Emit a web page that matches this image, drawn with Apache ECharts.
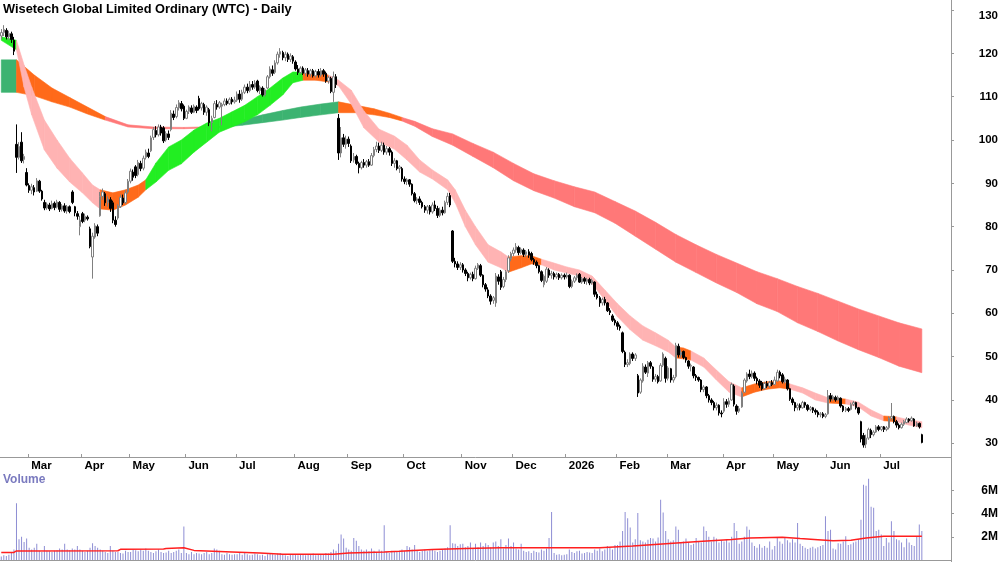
<!DOCTYPE html>
<html><head><meta charset="utf-8">
<script src="https://cdn.jsdelivr.net/npm/echarts@6/dist/echarts.min.js"></script>
<style>html,body{margin:0;padding:0;background:#fff}#c{width:1000px;height:562px}</style>
</head><body><div id="c"></div>
<script>
const chartTitle = 'Wisetech Global Limited Ordinary (WTC) - Daily';
const startDate = [2025, 1, 14];
const holidays = ['2025-04-18','2025-04-21','2025-04-25','2025-06-09','2025-12-25','2025-12-26','2026-01-01','2026-01-26','2026-04-03','2026-04-06','2026-06-08'];
const padDays = 11;
const monthNames = ['Jan','Feb','Mar','Apr','May','Jun','Jul','Aug','Sep','Oct','Nov','Dec'];
const priceTicks = [30,40,50,60,70,80,90,100,110,120,130];
const volumeTicks = [2,4,6];

// [open, close, low, high]
const candles = [
// Feb 2025
[124,124.8,123.2,125.6],[124.8,125.5,124,126.5],[125.3,123.8,123.2,125.8],[123.8,124.6,123,125.2],[124.5,123.2,122.4,125],[123,120.5,119.6,123.8],
[99,96,92.4,103.6],[96,98.5,95.5,99.5],[99.5,95.2,94.7,101.8],[95.5,96.2,94.6,96.8],[92.5,89.6,89.3,93.5],
// Mar
[89.5,88.4,87.8,90],[88.4,89.2,87.5,89.9],[89,88,87.2,89.6],[88.2,90.6,88,91.2],[90.5,88.2,87.8,90.8],[88.2,86.4,86,88.5],
[85.6,84.3,83.8,86.2],[84.3,85.2,83.9,85.6],[85,84.1,83.6,85.5],[84.2,85.3,84,86],[85.4,84.4,83.8,85.8],[84.5,85.7,84.2,86.2],
[85.6,84,83.4,85.9],[84,84.8,83.5,85.2],[84.8,83.6,83.2,85.4],[83.6,84.6,83,85],[84.6,83.5,83.1,84.9],[88,85.6,85.2,88.4],
[84.6,83.2,82.4,84.8],[83,82.4,81.6,83.6],[80,81.5,78,82.5],
// Apr
[83,81.2,80.8,83.4],[81.5,82.4,81,83],[82.2,81.8,81.4,82.6],[79.5,75.4,75,80],[73,77.8,68,78.6],[77.6,80.2,77.2,80.8],[80,78.5,77.8,80.5],
[82.5,87,82.3,88],[87,88,86.2,88.8],[87.6,85.5,84.8,88],[85.6,86.4,84.6,87],[86.2,84.2,83.4,86.8],[85.5,81.5,80.8,86],[81.5,80.5,80,82.4],
[82,84.8,81.6,85.2],[84.6,86.8,84.3,87.4],[86.6,85.5,85,87.4],[85.6,87.8,85.2,88.4],[88,90.5,87.6,91],
// May
[90.5,92.8,90,93.4],[92.6,91.4,90.6,93.2],[93.8,91.8,91.2,94.2],[92,94.8,91.6,95.4],[94.6,93.4,92.8,95.2],[93.5,95.8,93,96.4],[96,97.2,95.5,97.8],[97,96.2,95.8,98],
[97.5,100.5,97.2,101],[100.6,102.4,100,103],[102.2,101.2,100.6,103.2],[101.2,103,100.8,103.6],[103,101.6,101,103.5],[102.8,99.8,99.3,103.2],[100,101.5,99.6,102],[101.4,100.6,100,102.2],
[102.4,106.2,102,106.9],[106,105.2,104.6,106.8],[105.4,107.5,105,108.2],[107.4,108.6,106.8,109.2],[108.4,107.2,106.6,109],[107.8,105,104.6,108.2],
// Jun
[105,106.6,104.8,107],[106.6,107.6,106,108],[107.4,106.4,106,108],[106.4,107.8,106.2,108.2],[107.6,106.8,106.2,108],
[109.6,107.2,106.8,110.2],[107.4,108.4,106.8,108.8],[108.2,106.4,105.8,108.6],[106.4,107.6,105.6,108],[107,104,103.2,107.4],
[104,105,102,105.6],[105.2,108.4,105,109],[108.2,107.6,107,109.2],[107.6,108.6,107.2,109],[107.8,108.2,103.4,108.6],
[108.2,109,107.8,109.6],[109,108.4,108,109.6],[108.4,109.4,108.1,109.8],[109.4,108.8,108.2,109.9],[108.8,109.2,108.4,110],
// Jul
[109.2,110.6,108.8,111.2],[110.6,109.4,108.6,111.5],[109.4,111,109,111.6],[111,112.2,110.6,112.8],[112.2,111.4,110.8,113],
[111.4,112.8,111,113.6],[112.8,112.2,111.6,113.6],[112.2,113.2,111.8,113.8],[113.6,111.4,111,113.9],[111.4,112.2,110.6,112.6],
[112,110.4,110,112.4],[110.4,111.6,110,112],[112,114.6,111.8,115],[114.6,116.4,114.2,117],[116.2,115.4,114.8,117.2],
[115.6,117.8,115.2,118.4],[117.8,119.8,117.4,120.4],[119.8,120.4,119,121.2],[120.2,119,118.4,120.6],[119,119.8,118.2,120.4],
[119.8,118.6,118,120.2],[118.6,119.4,118,120],[119.2,118.2,117.6,119.6],
// Aug
[118,116.4,116,118.4],[116.4,115.6,115,117.3],[115.6,116.6,115.2,117],[116.6,115.4,115,117],[115.4,116.2,114.8,116.6],
[116,115.2,114.6,116.6],[115.2,116,114.6,116.4],[116,114.8,114.4,116.4],[114.8,115.8,114.4,116.2],[115.8,115,114.4,116.4],
[115,116,114.6,116.6],[116,115.2,114.6,116.4],[115.4,113.6,113.2,115.8],[113.6,114.4,113,114.8],[114.2,111.2,110.8,114.6],
[111,114.6,108.8,115.8],[114.6,112.8,112,115.2],[105,97,95.4,106],[97,100.5,96,103],[100.5,99,98.4,101.4],[99,100.2,98,101],
// Sep
[100.2,99.2,98.4,100.8],[98.6,95.2,94.7,99],[95.4,96.2,94.8,97],[96.2,94.6,94.2,96.6],[94.6,93.6,92.3,95],
[93.6,94.8,93.2,95.2],[94.8,94.2,93.6,95.6],[94.2,95,93.6,95.4],[95,94.2,93.8,95.6],[94.2,96.4,94,97],
[96.4,97.8,96,98.4],[97.8,98.6,97.2,99.6],[98.6,97.6,97,99.4],[97.6,98.8,97.2,99.6],[98.8,97.2,96.6,99.4],
[97.2,98,96.6,98.6],[98,97.2,96.4,98.4],[97.2,94.6,94,97.6],[94.6,95.2,93.6,95.8],[95.2,93.4,93,95.4],
[93.4,93.8,92.4,94.2],[93.4,91,90.4,93.8],
// Oct
[91,90.4,89.8,91.6],[90.4,90.8,89.6,91.2],[90.8,89.8,89.2,91],[89.8,87.6,87.2,90],[87.6,86,85.6,88],
[86,86.4,85.2,86.8],[86.4,85.6,85,87],[85.6,84.6,84.2,86],[84.6,83.8,83.2,85],[83.8,84.6,83,85],
[84.6,83.4,82.8,85],[83.4,85,83,85.6],[85,84.2,83.6,86],[84.2,82.6,82,84.8],[82.6,83.8,82.2,84.4],
[83.8,83.2,82.6,84.6],[83.2,85.6,83,86],[85.6,87,85,87.8],[87.2,85,84.5,87.8],[79,72,71.6,79.2],
[72,71.4,70.6,72.8],[71.4,70.6,70,72],[70.6,71.2,70,71.8],
// Nov
[71.2,70,69.4,71.6],[70,69.2,68.6,70.4],[69.2,68.2,67.4,69.6],[68.2,69,67.8,69.4],[69,68,67.4,69.6],
[68,70.4,67.8,71],[70.4,71.2,70,71.6],[71,68.8,68.4,71.4],[68.8,66.6,66,69],[66.6,65.6,65,67],
[65.4,64,63.5,66],[64,62.8,62,64.4],[63,63.6,62.2,64],[62.4,68.6,61.5,69.3],[68.4,67.4,66.6,69],
[69.6,66,65.4,70],[66.2,67.8,65.8,68.4],[67.8,69.6,67.2,70],[69.8,72.8,69.3,73.4],[72.6,73.8,72,74.2],
// Dec
[73.8,74.6,73.2,75.2],[74.6,75.4,74,76.2],[75.2,74,73.4,75.6],[74,74.8,73.6,75.2],[74.6,73.6,73,75],
[73.6,74.2,73,74.6],[74.2,73.4,72.8,74.8],[73.8,72.4,72,74.2],[72.4,71.8,71.2,72.8],[71.8,71,70.4,72.2],
[71,69.6,69.2,71.2],[69.6,67.6,67.2,69.9],[66.6,68.6,66,69],[67.4,70.2,67,70.7],[70,68.8,68.2,70.4],
[68.8,69.2,68,69.8],[69.2,68.4,67.8,69.6],[68.4,69,68,69.4],[69,68.2,67.7,69.3],[68.2,68.8,67.8,69.2],[68.8,68.4,67.8,69.2],
// Jan 2026
[68.4,68.8,68,69.4],[68.8,66.2,65.8,69],[66.2,67.4,65.8,67.8],[67.4,68.2,67,68.6],[68.2,68.8,67.6,69.2],
[69,67.2,67,69.3],[67.2,68,66.8,68.4],[68,67.4,66.8,68.4],[67.4,67.8,66.6,68.2],[67.8,67,66.5,68.2],
[67,67.6,66.6,68],[67.2,64.4,63.8,67.4],[64.4,63.6,63.2,65],[63.6,62.4,61.5,64],[62.4,63.2,61.8,63.6],
[63.2,62.4,61.8,63.8],[62.4,60.6,60.3,62.6],[60.6,60.2,59.6,61.2],[59.4,58.4,58,59.8],[58.4,57.8,57.2,58.8],
// Feb
[57.8,57,56.2,58.2],[57,56.6,56,57.4],[55.5,51.2,50.8,55.8],[51,48.2,47.6,51.4],[48.2,48.6,47.6,49.4],
[48.4,50.6,48,51],[50.6,49.6,49,51],[49.6,50.4,49,50.8],[45.6,41.6,40.7,46],[41.8,44.6,41.4,45],
[44.4,47.8,44,48.5],[47.6,46.4,46,48.2],[46.2,48.6,45.3,49],[48.6,47.8,47.2,49],[47.6,44.8,44.2,47.8],
[44.8,45.4,44.2,46],[45.4,44.2,43.8,45.8],[44.4,48,44.2,48.5],[48,50.6,47.6,51],[49.6,45,44,50],
// Mar
[45,47.4,44.5,47.8],[47.2,44.6,44,47.4],[44.6,45.2,44,45.8],[45.4,52.6,45,53.2],[52.4,50.4,49.8,53],
[50.4,51,49.8,51.6],[51.2,49.8,49.4,51.4],[49.8,49.2,48.6,50],[49,47.8,47.2,49.2],[47.8,48,46.6,48.4],
[47.6,45.6,45,47.8],[45.6,45.2,44.4,46],[45.2,44.6,44.2,45.4],[44.6,42.4,41.8,44.8],[42.4,43,41.8,43.4],
[43,41,40.4,43.2],[41,40,39.4,41.4],[40,39.4,38.8,40.4],[39.4,38.2,37.6,39.8],[38.2,38.8,37.6,39.4],
[38.8,37,36.4,39],[37,36.8,36,37.6],
// Apr
[37.4,39.6,37,40.4],[39.6,39,38.2,40.2],[39,39.8,38.4,40.5],[40,43.6,39.8,44],[43.2,39,38.5,43.6],
[38.6,37.4,36.6,39],[37.4,38,37,38.6],[38.4,41.6,38.2,42],[41.8,44.6,41.6,45],[44.4,46,44,46.4],
[46,45.4,44.8,47],[45.4,46.2,45,46.8],[46.2,45,44.4,46.6],[45,44.4,43.6,45.4],[44.4,43.4,42.8,44.8],
[44,42.6,42.2,44.4],[42.6,43.8,42.4,44.2],[43.8,43.2,42.8,44.4],[43.2,44,42.8,44.4],[44,43.6,43.2,44.6],
// May
[43.6,44.6,43.4,45.4],[44.4,46.4,44.2,47],[46.4,45.6,45,46.8],[45.8,44.2,43.8,46.2],[44.2,44.8,43.8,45.4],
[44.6,42.6,42.2,44.8],[42.6,40.2,39.8,42.8],[40.2,39.4,38.8,40.6],[39.4,38.2,37.4,39.6],[38.2,38.8,37.6,39.2],
[38.8,38.2,37.6,39.2],[38.2,39.4,38,39.8],[39.4,38.8,38.2,39.6],[38.8,37.8,37.4,39],[37.8,38.2,37.4,38.6],
[38.2,37.6,37,38.4],[37.6,37.2,36.6,38],[37.2,36.6,36,37.6],[36.6,36.8,36,37.2],[36.8,36.2,35.8,37.2],[36.2,36.6,35.8,37],
// Jun
[36.8,41,36.6,42.3],[41,40.2,39.6,41.6],[40.2,40.8,39.8,41.2],[40.6,40,39.6,41],[40,40.6,39.8,41],
[40.4,38.6,38.2,40.6],[38.6,37.6,37.2,38.8],[37.6,38,37.2,38.4],[38,37.6,37.2,38.4],[37.8,39,37.6,39.4],
[39,39.4,38.6,39.8],[39.4,38.2,37.8,39.6],[38.2,37,36.6,38.4],[35,31,30.2,35.2],[31.8,29.6,29,32.4],
[29.8,31.2,28.9,32],[31.2,33.2,30.8,33.6],[33,32,31.2,33.4],[32,32.6,31.6,33],[32.6,33.8,32.4,34.2],[33.8,33.2,32.8,34.2],
// Jul
[33.2,33.8,32.8,34],[33.8,33.2,32.6,34],[33.2,33.6,32.8,34],[33.6,35.8,33.2,36.2],[35.8,36.2,35.2,39.3],
[36.2,35,34.6,36.4],[35,34.2,33.6,35.4],[34.2,33.6,33.2,34.6],[33.6,34.4,33.4,34.8],[34.4,35,34,35.4],
[34.8,35.6,34.6,36],[35.6,35.2,34.8,35.8],[35.2,35.8,35,36.2],[35.6,34,33.8,35.8],[34,34.6,33.8,35],
[34.6,33.8,33.4,34.8],[32,30.2,30,32.2]
];

// volume, millions
const volumes = [
0.3,0.4,0.35,0.45,0.6,0.9,4.9,1.8,2.0,1.55,1.85,
1.05,0.9,1.05,1.4,0.8,0.7,1.2,0.8,0.75,0.7,0.8,0.85,1.0,0.9,1.4,0.9,0.85,1.0,0.9,1.2,0.9,
0.8,0.7,0.8,1.05,1.45,1.2,1.05,0.9,0.8,0.7,0.6,1.2,0.8,0.7,0.7,0.6,0.55,0.8,0.7,
0.7,0.9,0.85,0.75,0.9,0.8,1.0,0.8,0.7,0.6,0.75,0.9,0.7,0.6,0.65,0.8,0.6,0.7,0.8,0.9,0.6,2.9,
0.6,0.5,0.7,0.5,0.6,0.55,0.5,0.6,0.7,0.5,0.6,1.0,0.9,0.8,0.5,0.45,0.6,0.5,0.45,0.5,
0.5,0.6,0.45,0.6,0.5,0.4,0.45,0.55,0.5,0.4,0.45,0.35,0.5,0.6,0.5,0.45,0.55,0.6,0.5,0.4,0.35,0.45,0.5,
0.5,0.4,0.45,0.5,0.4,0.5,0.45,0.55,0.4,0.5,0.45,0.5,0.6,0.55,0.7,0.9,0.8,1.4,2.2,1.85,1.05,
0.9,0.8,1.9,1.65,1.2,0.9,0.8,0.9,0.75,1.0,0.8,0.7,0.9,0.8,3.0,0.7,0.6,0.8,0.7,0.75,0.8,0.9,
0.8,1.2,1.1,0.9,1.3,0.8,0.7,0.8,0.9,0.75,0.85,0.9,0.8,0.7,0.8,0.9,1.0,1.1,3.0,1.45,1.4,1.2,1.35,
1.4,1.1,1.2,1.5,1.0,1.4,1.1,1.5,1.2,1.45,1.3,1.1,1.5,1.6,1.2,1.8,1.0,1.3,1.85,1.2,
1.5,1.0,0.9,1.4,0.8,0.7,0.75,0.6,0.8,0.7,0.65,0.9,0.8,1.0,1.9,4.15,0.6,0.45,0.5,0.4,0.45,
0.5,0.9,0.7,0.6,0.75,0.8,0.55,0.6,0.7,0.65,0.6,0.9,0.8,1.0,0.75,0.9,1.2,1.05,0.9,1.3,
1.3,1.6,2.5,4.15,3.6,2.8,1.5,1.8,4.05,1.7,1.6,1.5,1.75,1.9,1.85,1.6,1.95,5.2,4.1,2.5,
1.8,1.6,1.7,2.9,2.6,1.5,1.6,1.85,1.5,1.3,1.4,1.9,1.6,1.5,2.9,2.5,2.0,1.6,2.0,1.85,1.5,1.7,
1.6,1.8,1.5,2.0,3.2,2.5,1.4,1.6,2.0,2.9,2.6,1.5,1.2,1.05,1.35,1.05,1.2,1.05,1.6,0.9,
1.2,1.9,1.6,1.4,1.9,1.7,1.5,1.8,1.5,3.2,1.4,1.2,1.05,0.95,1.05,1.15,1.0,1.1,1.2,1.3,3.77,
2.5,2.6,1.0,0.9,1.45,1.4,1.6,2.05,1.3,1.35,1.5,1.6,1.8,3.48,6.5,6.4,7.0,4.6,4.5,2.5,2.6,
2.2,1.2,1.9,1.5,3.35,2.5,1.8,1.7,1.5,1.1,1.85,1.5,1.3,1.2,2.0,3.06,2.5
];

// volume moving average (read at these day indices), millions
const volMAIdx = [0,5,6,46,47,64,65,72,76,91,102,111,131,137,151,157,170,183,197,236,249,262,275,288,295,308,315,322,328,335,341,348,363];
const volMA    = [0.65,0.65,0.78,0.8,0.92,0.95,1.0,1.05,0.83,0.7,0.6,0.5,0.5,0.6,0.7,0.75,0.9,1.0,1.05,1.05,1.2,1.4,1.6,1.77,1.9,1.97,1.85,1.75,1.65,1.7,1.9,2.05,2.05];

// short-term moving-average ribbon (upper / lower edge at day index), trend state u=up d=down m=mixed
const shortIdx = [0,6,9,12,17,22,27,32,36,39,44,49,54,57,61,66,71,76,81,86,91,96,101,106,111,115,119,124,129,133,138,143,149,155,160,165,170,176,179,183,187,192,197,200,205,209,213,218,223,228,233,238,243,248,253,258,263,266,269,272,277,282,287,292,297,302,307,311,316,321,326,333,338,343,348,353,358,363];
const shortHi  = [123.8,123,117.3,112.2,104.6,100,95.8,92.4,89.6,88.5,87.8,88.5,89.6,90.8,94.7,98.4,100,102.3,103.9,105,106.5,108,110,112,114.3,115.7,115.7,115.5,115,113.8,111.5,106.7,102.5,100.9,98.8,95.4,93.1,90.8,88.5,83.8,80,75.8,74.2,73,73.3,73.3,72.5,71.6,70.7,70,68.6,65.4,62.2,59.4,57.1,55.5,53.8,52.2,52,51.3,49.7,46.9,44.2,42.8,43.7,44.2,44.4,43.7,42.8,41.6,40.5,40.2,39.5,37.7,36.3,36.1,35.4,35];
const shortLo  = [123,120.8,112.2,105.8,97.7,93.5,90.3,87.8,85.5,84.1,83.8,85,86.8,88.5,90.3,93,94.5,97.2,99.5,101.8,103,104.2,105.8,108,110.4,113.2,113.8,113.8,113.4,112.5,108.3,102.8,99.5,97.9,95.4,92.6,91,88.5,85.5,80,75.8,71.8,70.5,69.5,70.5,71.4,71.2,70,69.3,68.6,66.8,63.1,59.2,56.2,53.8,52.5,51.1,49.7,49.5,49.2,47.6,44.6,41.8,40.7,41.8,42.5,42.8,42.5,41.6,40,39.3,39.1,38.4,36.3,35.2,35,34.2,33.6];
const shortState = ['u','d','d','d','d','d','d','d','d','m','m','m','m','u','u','u','u','u','u','u','u','u','u','u','u','u','m','m','d','d','d','d','d','d','d','d','d','d','d','d','d','d','d','m','m','m','d','d','d','d','d','d','d','d','d','d','d','m','m','d','d','d','d','m','m','m','m','d','d','d','m','d','d','d','m','d','d','d'];

// long-term moving-average ribbon
const longIdx = [0,6,13,20,27,34,41,50,60,72,86,95,103,111,118,126,133,140,147,153,158,163,170,178,186,194,202,210,218,226,234,242,250,258,266,274,282,290,298,306,314,322,330,338,346,354,363];
const longHi  = [118.5,118.5,115,112,109.8,107.6,105.4,103.5,103,102.9,103.1,104.6,105.8,106.8,107.6,108.3,108.8,108,107.2,106.2,105.2,104.3,102.6,101.4,99.2,97.2,94.6,92.2,90.6,89.2,88,85.8,83.6,81,78.2,75.8,73.6,71.6,69.6,68,66.2,64.6,62.8,61,59.4,57.8,56.4];
const longLo  = [111,111,110.2,108.8,107.6,106,104.6,103,102.6,102.6,102.9,103.4,104,104.6,105.2,105.8,106.3,106.3,105.8,105.2,104.4,103.2,100.8,98.8,96.2,93.6,90.6,88.3,86.6,84.6,83.2,80.8,77.8,74.8,71.8,69.4,67,64.8,62.2,60.4,57.8,55.8,53.6,51.6,49.8,47.8,46.3];
const longState = ['u','m','m','m','m','m','d','d','d','d','u','u','u','u','u','u','m','m','m','m','d','d','d','d','d','d','d','d','d','d','d','d','d','d','d','d','d','d','d','d','d','d','d','d','d','d','d'];

const FONT = '"Liberation Sans", Arial, sans-serif';
const shortColors = {u:'#22ee22', d:'#ffb3b3', m:'#ff6a1a'};
const longColors  = {u:'#3cb371', d:'#ff7878', m:'#ff6a1a'};

// trading-day categories
const N = candles.length;
const dates = [];
{
  const d = new Date(Date.UTC(startDate[0], startDate[1], startDate[2]));
  while (dates.length < N + padDays) {
    const wd = d.getUTCDay();
    const s = d.toISOString().slice(0, 10);
    if (wd !== 0 && wd !== 6 && holidays.indexOf(s) < 0) dates.push(s);
    d.setUTCDate(d.getUTCDate() + 1);
  }
}
const isMonthStart = dates.map((s, i) => i > 0 && i < N && s.slice(5, 7) !== dates[i - 1].slice(5, 7));
const monthLabel = s => { const m = +s.slice(5, 7); return m === 1 ? s.slice(0, 4) : monthNames[m - 1]; };

function ribbon(idx, hi, lo, st, colors, z) {
  const segs = [];
  for (let k = 0; k < idx.length - 1; k++) segs.push([idx[k], hi[k], lo[k], idx[k + 1], hi[k + 1], lo[k + 1], k]);
  return {
    type: 'custom', xAxisIndex: 0, yAxisIndex: 0, z: z, silent: true,
    data: segs,
    encode: {x: [0, 3], y: [1, 2, 4, 5]},
    renderItem: function (params, api) {
      const k = api.value(6);
      const a = api.coord([api.value(0), api.value(1)]);
      const b = api.coord([api.value(3), api.value(4)]);
      const c = api.coord([api.value(3), api.value(5)]);
      const d = api.coord([api.value(0), api.value(2)]);
      const col = colors[st[k]];
      return {type: 'polygon', shape: {points: [a, b, c, d]}, style: {fill: col, stroke: col, lineWidth: 0.6}};
    }
  };
}

const chart = echarts.init(document.getElementById('c'), null, {renderer: 'canvas', width: 1000, height: 562});
const option = {
  animation: false,
  backgroundColor: '#ffffff',
  title: {text: chartTitle, left: 3, top: 3, padding: 0, textStyle: {fontFamily: FONT, fontSize: 12.8, fontWeight: 'bold', color: '#000'}},
  grid: [
    {left: 0, top: 0, width: 951, height: 457, outerBoundsMode: 'none'},
    {left: 0, top: 472, width: 951, height: 88, outerBoundsMode: 'none'}
  ],
  xAxis: [
    {type: 'category', gridIndex: 0, data: dates, boundaryGap: true,
     axisLine: {lineStyle: {color: '#999', width: 1}},
     axisTick: {show: true, inside: true, length: 3, interval: (i) => isMonthStart[i], lineStyle: {color: '#999'}},
     axisLabel: {interval: (i) => isMonthStart[i], formatter: (v) => monthLabel(v), align: 'left', margin: 3, padding: [0, 0, 0, 2],
                 color: '#000', fontFamily: FONT, fontWeight: 'bold', fontSize: 11.5},
     splitLine: {show: false}},
    {type: 'category', gridIndex: 1, data: dates, boundaryGap: true, position: 'top',
     axisLine: {lineStyle: {color: '#999', width: 1}}, axisTick: {show: false}, axisLabel: {show: false}, splitLine: {show: false}}
  ],
  yAxis: [
    {type: 'value', gridIndex: 0, position: 'right', min: 26.84, max: 132.31, scale: true,
     axisLine: {show: true, lineStyle: {color: '#999'}},
     axisTick: {show: true, customValues: priceTicks, length: 3, lineStyle: {color: '#999'}},
     axisLabel: {customValues: priceTicks, formatter: (v) => v === 130 ? '{t|130}' : String(v),
                 rich: {t: {padding: [11, 0, 0, 0], fontFamily: FONT, fontWeight: 'bold', fontSize: 11.5, color: '#000'}},
                 align: 'right', margin: 47, color: '#000', fontFamily: FONT, fontWeight: 'bold', fontSize: 11.5},
     splitLine: {show: false}},
    {type: 'value', gridIndex: 1, position: 'right', min: 0, max: 7.59,
     axisLine: {show: true, lineStyle: {color: '#999'}},
     axisTick: {show: true, customValues: volumeTicks, length: 3, lineStyle: {color: '#999'}},
     axisLabel: {customValues: volumeTicks, formatter: (v) => v + 'M', align: 'right', margin: 47, color: '#000', fontFamily: FONT, fontWeight: 'bold', fontSize: 12},
     splitLine: {show: false}}
  ],
  graphic: [
    {type: 'line', shape: {x1: 951.5, y1: 0, x2: 951.5, y2: 562}, style: {stroke: '#999', lineWidth: 1}, z: 100},
    {type: 'text', left: 3, top: 474, style: {text: 'Volume', font: 'bold 12px ' + FONT, fill: '#7a7abf'}, z: 100}
  ],
  series: [
    ribbon(longIdx, longHi, longLo, longState, longColors, 1),
    ribbon(shortIdx, shortHi, shortLo, shortState, shortColors, 2),
    {type: 'candlestick', xAxisIndex: 0, yAxisIndex: 0, z: 5, barWidth: 2,
     data: candles.map(r => [r[0], r[1], r[2], r[3]]),
     itemStyle: {color: '#ffffff', color0: '#000000', borderColor: '#808080', borderColor0: '#000000', borderWidth: 1}},
    {type: 'bar', xAxisIndex: 1, yAxisIndex: 1, barWidth: 1, data: volumes, itemStyle: {color: '#8e8ed4'}, z: 2},
    {type: 'line', xAxisIndex: 1, yAxisIndex: 1, symbol: 'none', z: 3,
     data: volMAIdx.map((i, k) => [i, volMA[k]]),
     lineStyle: {color: '#ff1f1f', width: 1.5}}
  ]
};
chart.setOption(option);
</script>
</body></html>
